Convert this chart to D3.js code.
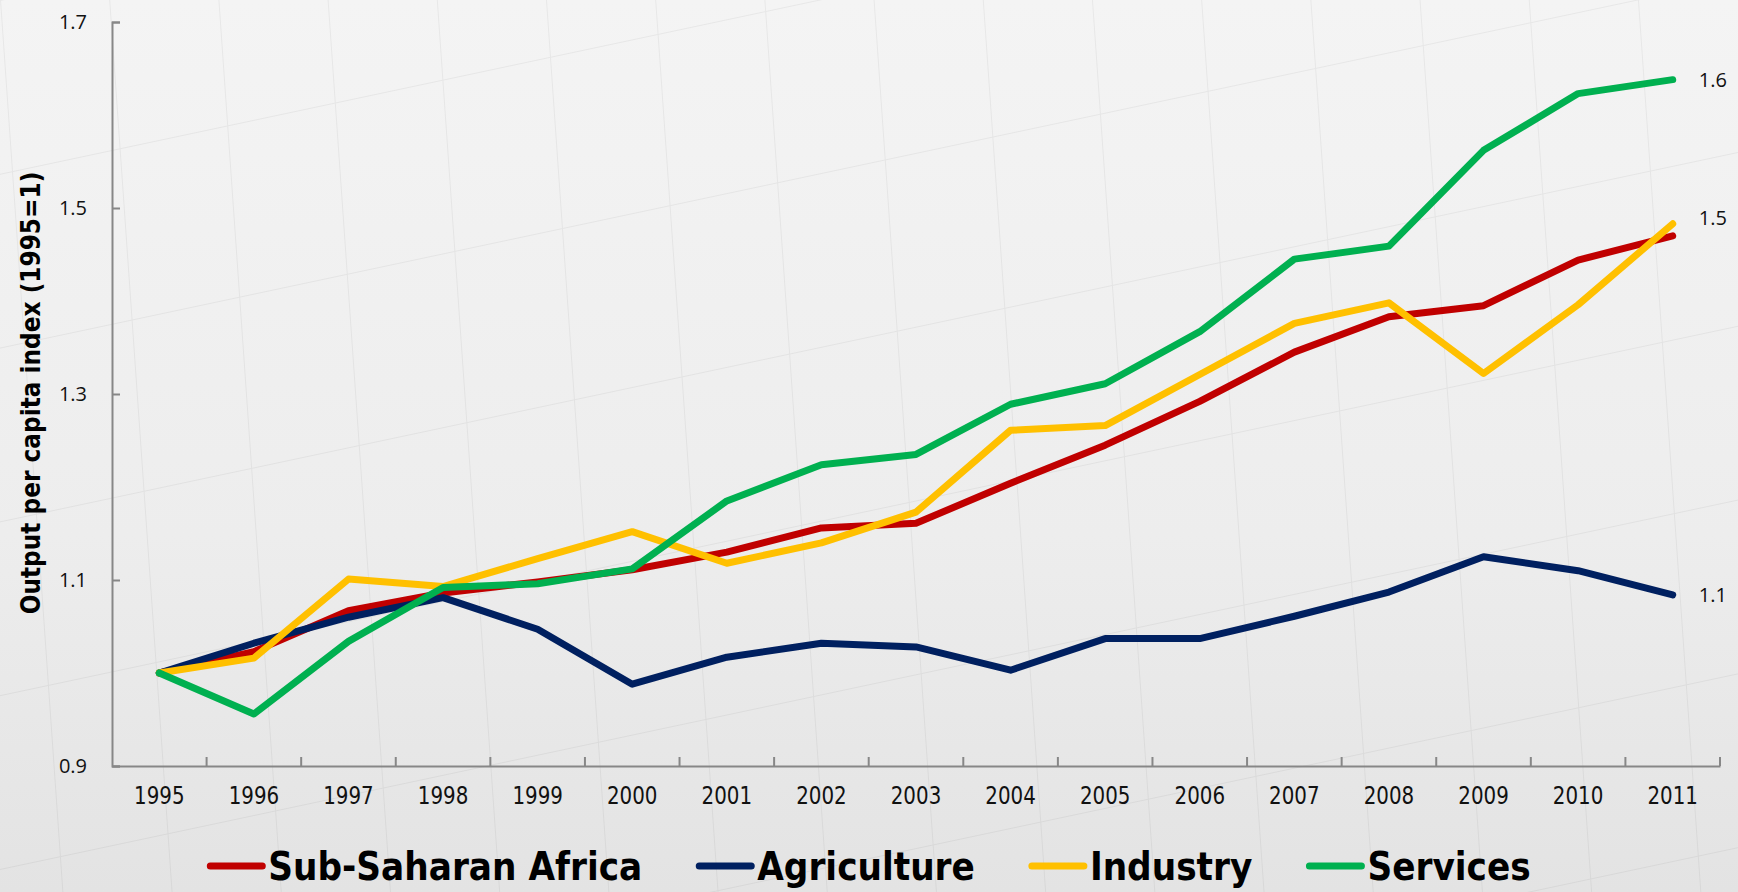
<!DOCTYPE html>
<html>
<head>
<meta charset="utf-8">
<script src="https://cdn.jsdelivr.net/npm/d3@7"></script>
<style>
  html, body { margin: 0; padding: 0; background: #ececec; }
  svg { display: block; }
</style>
</head>
<body>
<svg id="chart" width="1738" height="892"></svg>
<script>
// ---------- data ----------
const years = ["1995","1996","1997","1998","1999","2000","2001","2002","2003","2004","2005","2006","2007","2008","2009","2010","2011"];
const subSaharanAfrica = [1.000, 1.023, 1.067, 1.086, 1.098, 1.111, 1.130, 1.156, 1.161, 1.204, 1.245, 1.292, 1.345, 1.383, 1.395, 1.444, 1.470];
const agriculture      = [1.000, 1.032, 1.060, 1.081, 1.047, 0.988, 1.017, 1.032, 1.028, 1.003, 1.037, 1.037, 1.061, 1.087, 1.125, 1.110, 1.084];
const industry         = [1.000, 1.016, 1.101, 1.093, 1.123, 1.152, 1.118, 1.140, 1.173, 1.261, 1.266, 1.321, 1.376, 1.398, 1.322, 1.396, 1.483];
const services         = [1.000, 0.956, 1.034, 1.092, 1.096, 1.112, 1.185, 1.224, 1.235, 1.289, 1.311, 1.367, 1.445, 1.459, 1.562, 1.623, 1.638];
const seriesNames = ["Sub-Saharan Africa", "Agriculture", "Industry", "Services"];
const seriesColors = ["#C00000", "#002060", "#FFC000", "#00B050"];
const yTickValues = [0.9, 1.1, 1.3, 1.5, 1.7];
const endLabelSeries = ["Agriculture", "Industry", "Services"];
const yAxisTitle = "Output per capita  index (1995=1)";

const seriesData = [subSaharanAfrica, agriculture, industry, services];
const series = seriesNames.map((name, i) => ({ name, color: seriesColors[i], values: seriesData[i] }));

// ---------- layout ----------
const W = 1738, H = 892;
const plot = { left: 112, right: 1720, top: 22, bottom: 766 };
const svg = d3.select("#chart");

// background
const defs = svg.append("defs");
const grad = defs.append("linearGradient").attr("id", "bg").attr("x1", 0).attr("y1", 0).attr("x2", 0).attr("y2", 1);
grad.append("stop").attr("offset", "0%").attr("stop-color", "#f4f4f4");
grad.append("stop").attr("offset", "60%").attr("stop-color", "#ededed");
grad.append("stop").attr("offset", "100%").attr("stop-color", "#e3e3e3");
const pat = defs.append("pattern").attr("id", "tex").attr("patternUnits", "userSpaceOnUse")
  .attr("width", 110).attr("height", 170)
  .attr("patternTransform", "rotate(-12) skewX(-8)");
pat.append("path").attr("d", "M0,0 L0,170 M0,0 L110,0")
  .attr("stroke", "#000").attr("stroke-opacity", 0.05).attr("stroke-width", 2).attr("fill", "none");
svg.append("rect").attr("width", W).attr("height", H).attr("fill", "url(#bg)");
svg.append("rect").attr("width", W).attr("height", H).attr("fill", "url(#tex)");

// scales
const xBand = d3.scaleBand().domain(years).range([plot.left, plot.right]).padding(0);
const xc = d => xBand(d) + xBand.bandwidth() / 2;
const y = d3.scaleLinear().domain([0.9, 1.7]).range([plot.bottom, plot.top]);
const fmt = d3.format(".1f");

// y axis
const yAxis = svg.append("g").attr("transform", `translate(${plot.left},0)`)
  .call(d3.axisLeft(y).tickValues(yTickValues).tickFormat(fmt).tickSizeInner(-8).tickSizeOuter(-8).tickPadding(25));
yAxis.select(".domain").attr("stroke", "#878787").attr("stroke-width", 2);
yAxis.selectAll(".tick line").attr("stroke", "#878787").attr("stroke-width", 2);
yAxis.selectAll(".tick text").attr("font-family", "'Open Sans', 'DejaVu Sans', sans-serif")
  .attr("font-size", 20).attr("fill", "#111");

// x axis (labels at band centres, tick marks at band boundaries, pointing inward)
const xAxis = svg.append("g").attr("transform", `translate(0,${plot.bottom})`)
  .call(d3.axisBottom(xBand).tickSize(0).tickPadding(21));
xAxis.select(".domain").attr("stroke", "#878787").attr("stroke-width", 2);
xAxis.selectAll(".tick text").attr("font-family", "'Liberation Sans Narrow', 'DejaVu Sans Condensed', Lato, sans-serif")
  .attr("font-size", 24).attr("fill", "#111").attr("transform", "scale(0.92,1)");
const boundaries = years.slice(1).map(d => xBand(d)).concat([xBand.range()[1]]);
xAxis.selectAll("line.bound").data(boundaries).enter().append("line")
  .attr("class", "bound").attr("x1", d => d).attr("x2", d => d).attr("y1", 0).attr("y2", -9)
  .attr("stroke", "#878787").attr("stroke-width", 2);

// y axis title
const yTitle = svg.append("text")
  .attr("transform", `translate(31,393) rotate(-90)`)
  .attr("text-anchor", "middle").attr("dominant-baseline", "central")
  .attr("font-family", "'Liberation Sans Narrow', 'DejaVu Sans Condensed', Lato, sans-serif")
  .attr("font-weight", "bold").attr("font-size", 26).attr("fill", "#000")
  .text(yAxisTitle);
(function fit(sel, target) {
  const len = sel.node().getComputedTextLength();
  const fs = +sel.attr("font-size");
  sel.attr("font-size", fs * target / len);
})(yTitle, 443);

// lines
const line = d3.line().x((d, i) => xc(years[i])).y(d => y(d));
svg.append("g").selectAll("path").data(series).enter().append("path")
  .attr("d", d => line(d.values))
  .attr("fill", "none").attr("stroke", d => d.color).attr("stroke-width", 7)
  .attr("stroke-linejoin", "round").attr("stroke-linecap", "round");

// end labels
const last = years.length - 1;
svg.append("g").selectAll("text").data(series.filter(s => endLabelSeries.includes(s.name))).enter().append("text")
  .attr("x", xc(years[last]) + 26)
  .attr("y", d => y(d.values[last]) - (d.name === "Industry" ? 6 : 0))
  .attr("dominant-baseline", "central")
  .attr("font-family", "'Open Sans', 'DejaVu Sans', sans-serif").attr("font-size", 20).attr("fill", "#111")
  .text(d => fmt(d.values[last]));

// legend
const legend = svg.append("g");
const legFont = "'Liberation Sans Narrow', 'DejaVu Sans Condensed', Lato, sans-serif";
const legBase = 880;
const items = legend.selectAll("g").data(series).enter().append("g");
const texts = items.append("text").attr("font-family", legFont).attr("font-weight", "bold")
  .attr("font-size", 44).attr("fill", "#000").attr("y", legBase).text(d => d.name);
const firstLen = texts.nodes()[0].getComputedTextLength();
const legFs = 44 * 374 / firstLen;
texts.attr("font-size", legFs);
const swW = 58, swGap = 3, itemGap = 54;
const widths = texts.nodes().map(n => n.getComputedTextLength());
const total = d3.sum(widths) + series.length * (swW + swGap) + (series.length - 1) * itemGap;
let cx = W / 2 - total / 2;
items.each(function (d, i) {
  const g = d3.select(this);
  g.append("line").attr("x1", cx + 3).attr("x2", cx + swW - 3).attr("y1", legBase - 14).attr("y2", legBase - 14)
    .attr("stroke", d.color).attr("stroke-width", 7).attr("stroke-linecap", "round");
  g.select("text").attr("x", cx + swW + swGap);
  cx += swW + swGap + widths[i] + itemGap;
});
</script>
</body>
</html>
